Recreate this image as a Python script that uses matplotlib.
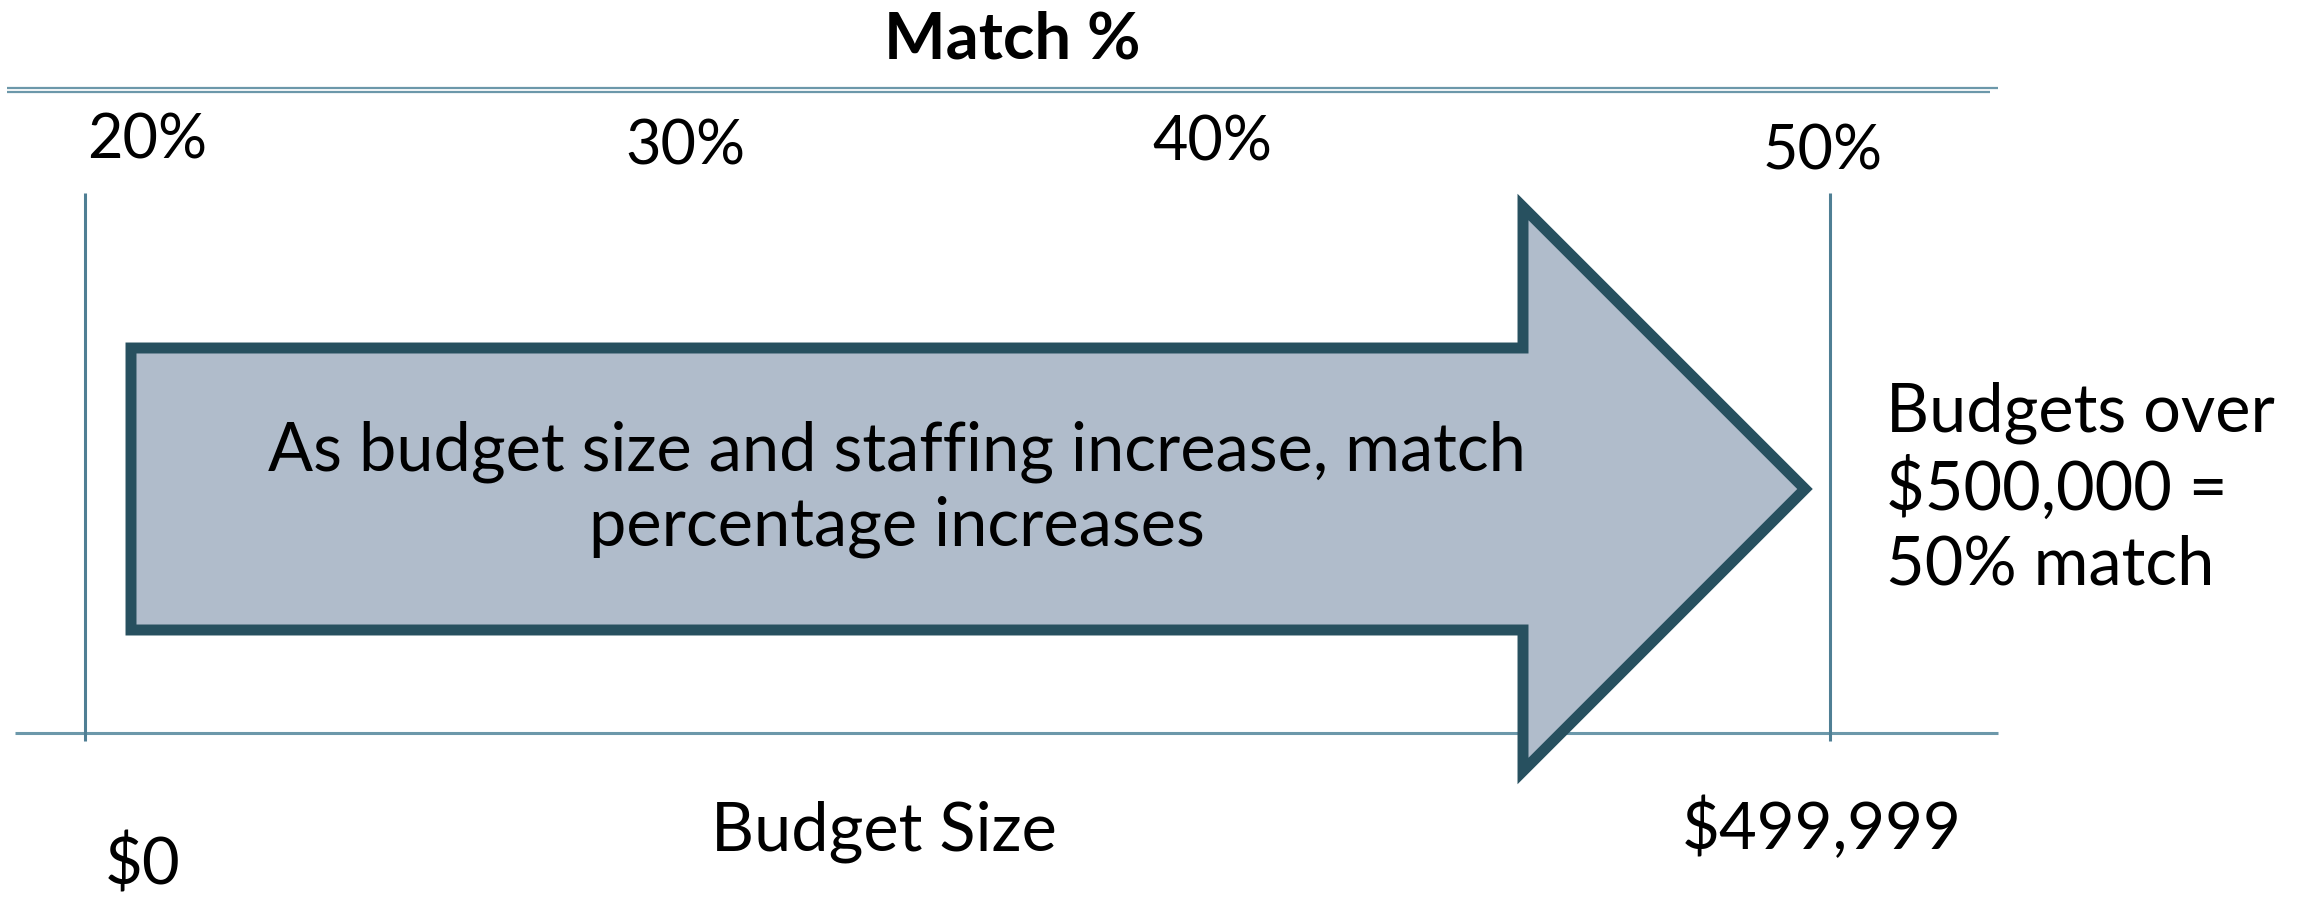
import matplotlib.pyplot as plt
from matplotlib.patches import Polygon

# ---- chart content
title = "Match %"
match_labels = ["20%", "30%", "40%", "50%"]
budget_labels = ["$0", "$499,999"]
axis_label = "Budget Size"
arrow_text = "As budget size and staffing increase, match\npercentage increases"
side_note = "Budgets over\n$500,000 =\n50% match"

# ---- layout (pixel coordinates of the 2309x914 canvas)
W, H = 2309, 914
match_x = [147, 685, 1212, 1823]
match_y = [141, 147, 143, 152]
budget_x = [143, 1822]
budget_y = [864, 828]
vline_x = [85, 1830]

EDGE = "#27505f"
FILL = "#b0bccb"
LINE = "#4f7f94"
HLINE = "#6c98aa"
FONT = ["Lato", "DejaVu Sans"]


def main():
    fig = plt.figure(figsize=(W / 100, H / 100), dpi=100)
    ax = fig.add_axes([0, 0, 1, 1])
    ax.set_xlim(0, W)
    ax.set_ylim(H, 0)
    ax.axis("off")

    # top double rule and bottom rule
    ax.plot([7, 1998], [88, 88], color=HLINE, lw=1.6, solid_capstyle="butt")
    ax.plot([7, 1990], [92, 92], color=HLINE, lw=1.6, solid_capstyle="butt")
    ax.plot([15, 1998], [733, 733], color=HLINE, lw=2.2, solid_capstyle="butt")

    # the two boundary verticals
    for x in vline_x:
        ax.plot([x, x], [193, 741], color=LINE, lw=2.2, solid_capstyle="butt")

    # big arrow
    tip_y = 489
    pts = [(131, 348), (1523, 348), (1523, 207), (1805, tip_y),
           (1523, 771), (1523, 630), (131, 630)]
    arrow = Polygon(pts, closed=True, facecolor=FILL, edgecolor=EDGE,
                    lw=7.9, joinstyle="miter", zorder=3)
    ax.add_patch(arrow)

    ax.text(897, 489, arrow_text, ha="center", va="center", fontsize=48,
            family=FONT, linespacing=1.25, zorder=4)
    ax.text(1886, 489, side_note, ha="left", va="center", fontsize=48,
            family=FONT, linespacing=1.25)

    ax.text(1012, 40, title, ha="center", va="center", fontsize=47,
            family=FONT, fontweight="bold")

    for lab, x, y in zip(match_labels, match_x, match_y):
        ax.text(x, y, lab, ha="center", va="center", fontsize=44, family=FONT)

    for lab, x, y in zip(budget_labels, budget_x, budget_y):
        ax.text(x, y, lab, ha="center", va="center", fontsize=47, family=FONT)

    ax.text(884, 832, axis_label, ha="center", va="center", fontsize=48,
            family=FONT)

    fig.savefig("out.png", dpi=100)


if __name__ == "__main__":
    main()
